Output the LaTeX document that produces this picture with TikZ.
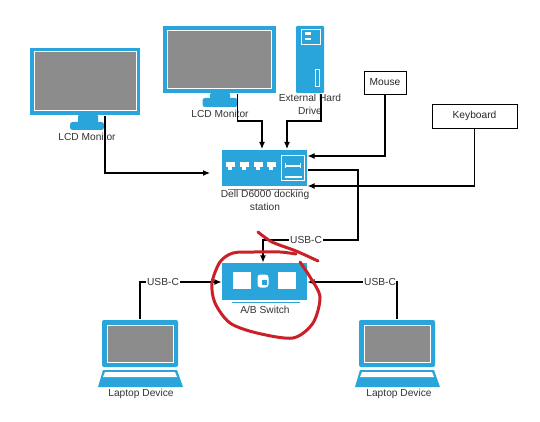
\documentclass[tikz,border=0pt]{standalone}
\usepackage{fontspec}
\setmainfont{Liberation Sans}
\usetikzlibrary{positioning,arrows.meta,calc}
\begin{document}
\begin{tikzpicture}[x=1pt, y=-1pt, line width=1.1pt,
  >={Latex[length=7pt, width=6pt]},
  font=\fontsize{10.2}{13}\selectfont,
  body/.style={fill=devblue, inner sep=0pt},
  screen/.style={draw=white, line width=1pt, fill=scrgrey, inner sep=0pt},
  port/.style={fill=white, inner sep=0pt},
  lab/.style={text=black!80, align=center, inner sep=0pt},
  tag/.style={lab, fill=white, inner xsep=1pt, inner ysep=1pt},
  plain/.style={draw, line width=0.9pt, fill=white, inner sep=0pt, text=black!85},
  wire/.style={draw=black},
  arr/.style={->, draw=black},
]
\definecolor{devblue}{HTML}{2AA5DC}
\definecolor{scrgrey}{HTML}{8C8C8C}
\definecolor{scrawl}{HTML}{CC2029}
\useasboundingbox (0,0) rectangle (540,422);
\fill[white] (0,0) rectangle (540,422);

% ---------------- monitors and drive ----------------
\node[body, minimum width=110pt, minimum height=67pt] (mona) at (85,81.5) {};
\node[screen, minimum width=102pt, minimum height=59pt] (scra) at (mona.center) {};
\node[body, rounded corners=1pt, minimum width=20pt, minimum height=8pt] (necka) at (88,119) {};
\node[body, rounded corners=2.5pt, minimum width=34pt, minimum height=8pt] (basea) at (87,126) {};
\node[lab] (laba) at (87,137) {LCD Monitor};

\node[body, minimum width=113pt, minimum height=67pt] (monb) at (219.5,59.5) {};
\node[screen, minimum width=104pt, minimum height=58pt] (scrb) at (monb.center) {};
\node[body, rounded corners=1pt, minimum width=20pt, minimum height=8pt] (neckb) at (220,97) {};
\node[body, rounded corners=2.5pt, minimum width=35pt, minimum height=9pt] (baseb) at (220,102.5) {};
\node[lab] (labb) at (220,114) {LCD Monitor};

\node[body, rounded corners=1pt, minimum width=28pt, minimum height=67pt] (drive) at (310,59.5) {};
\node[draw=white, line width=0.8pt, inner sep=0pt, minimum width=19pt, minimum height=15pt] (panel) at (310.5,36.5) {};
\node[port, minimum width=6pt, minimum height=2.5pt] (leda) at (308,33.5) {};
\node[port, minimum width=6pt, minimum height=2.5pt] (ledb) at (308,39) {};
\node[draw=white, line width=0.8pt, inner sep=0pt, minimum width=4pt, minimum height=17pt] (slot) at (317,78) {};
\node[lab] (labc) at (310,104.5) {External Hard\\Drive};

% ---------------- mouse and keyboard ----------------
\node[plain, minimum width=42pt, minimum height=23pt] (mouse) at (385,82.5) {Mouse};
\node[plain, minimum width=85pt, minimum height=24pt] (keys) at (474.5,116) {Keyboard};

% ---------------- docking station ----------------
\node[body, minimum width=85pt, minimum height=36pt] (dock) at (264.5,168) {};
\node[port, minimum width=9pt, minimum height=5pt] (rja) at (230,165) {};
\node[port, minimum width=9pt, minimum height=5pt] (rjb) at (244,165) {};
\node[port, minimum width=9pt, minimum height=5pt] (rjc) at (258,165) {};
\node[port, minimum width=9pt, minimum height=5pt] (rjd) at (271,165) {};
\node[port, minimum width=4pt, minimum height=3pt] (rje) at (230,169) {};
\node[port, minimum width=4pt, minimum height=3pt] (rjf) at (244,169) {};
\node[port, minimum width=4pt, minimum height=3pt] (rjg) at (258,169) {};
\node[port, minimum width=4pt, minimum height=3pt] (rjh) at (271,169) {};
\node[draw=white, line width=0.8pt, inner sep=0pt, minimum width=23pt, minimum height=25pt] (bay) at (293,168) {};
\draw[white, line width=1.2pt, {|[width=5pt]}-{|[width=5pt]}] (285,166) -- (301,166);
\node[port, minimum width=17pt, minimum height=2pt] (dots) at (293,177) {};
\draw[devblue, line width=0.8pt] (228,189) -- (303,189);
\node[lab] (labd) at (265,200.5) {Dell D6000 docking\\station};

% ---------------- switch ----------------
\node[body, minimum width=85pt, minimum height=37pt] (swi) at (264.5,281.5) {};
\node[port, minimum width=18pt, minimum height=17pt] (sqa) at (242,280.5) {};
\node[port, minimum width=18pt, minimum height=17pt] (sqb) at (287,280.5) {};
\node[port, rounded corners=3pt, minimum width=11pt, minimum height=13pt] (sel) at (263,281) {};
\node[fill=devblue, inner sep=0pt, minimum size=5pt] (seld) at (264,282) {};
\draw[devblue, line width=0.8pt] (232,302) -- (300,302);
\node[lab] (labe) at (265,310) {A/B Switch};

% ---------------- laptops ----------------
\node[body, rounded corners=2pt, minimum width=76pt, minimum height=47pt] (lapa) at (140,343.5) {};
\node[screen, minimum width=66pt, minimum height=37pt] (scrc) at (lapa.center) {};
\fill[devblue] (103,370) -- (177,370) -- (183,387) -- (98,387) -- cycle;
\fill[white] (105,372) -- (175,372) -- (177,377) -- (103,377) -- cycle;
\node[lab] (labf) at (141,394) {Laptop Device};

\node[body, rounded corners=2pt, minimum width=76pt, minimum height=47pt] (lapb) at (397,343.5) {};
\node[screen, minimum width=66pt, minimum height=37pt] (scrd) at (lapb.center) {};
\fill[devblue] (360,370) -- (434,370) -- (440,387) -- (355,387) -- cycle;
\fill[white] (362,372) -- (432,372) -- (434,377) -- (360,377) -- cycle;
\node[lab] (labg) at (399,394) {Laptop Device};

% ---------------- connectors into the dock ----------------
\coordinate (dockl) at (210,173);
\draw[arr] ([xshift=20pt]mona.south) |- (dockl);
\draw[arr] ([xshift=18pt]monb.south) |- (262,121) -- (262,149);
\draw[arr] ([xshift=11pt]drive.south) |- (287,121) -- (287,149);
\draw[arr] (mouse.south) |- ([yshift=12pt]dock.east);
\draw[arr] (keys.south) |- ([yshift=-18pt]dock.east);

% ---------------- USB-C links ----------------
\node[tag] (usba) at (306,240) {USB-C};
\node[tag] (usbb) at (163,282) {USB-C};
\node[tag] (usbc) at (380,282) {USB-C};
\coordinate (bend) at (358,170);
\draw[wire] ([yshift=-2pt]dock.east) -- (bend) |- (usba.east);
\draw[arr] (usba.west) -| ([xshift=-1.5pt]swi.north);
\draw[wire] (lapa.north) |- (usbb.west);
\draw[arr] (usbb.east) -- (usbb.east -| swi.west);
\draw[wire] (lapb.north) |- (usbc.east);
\draw[arr] (usbc.west) -- (usbc.west -| swi.east);

% ---------------- red scrawl ----------------
\draw[scrawl, line width=3pt, line cap=round, line join=round]
  plot[smooth] coordinates {(258,232) (272,242) (296,251) (318,261)};
\draw[scrawl, line width=3pt, line cap=round, line join=round]
  plot[smooth] coordinates {(296,254) (280,252) (254,252) (233,253) (220,262) (212,283) (215,303) (230,323) (257,333) (293,338) (313,323) (320,297) (310,277) (300,262)};
\end{tikzpicture}
\end{document}
